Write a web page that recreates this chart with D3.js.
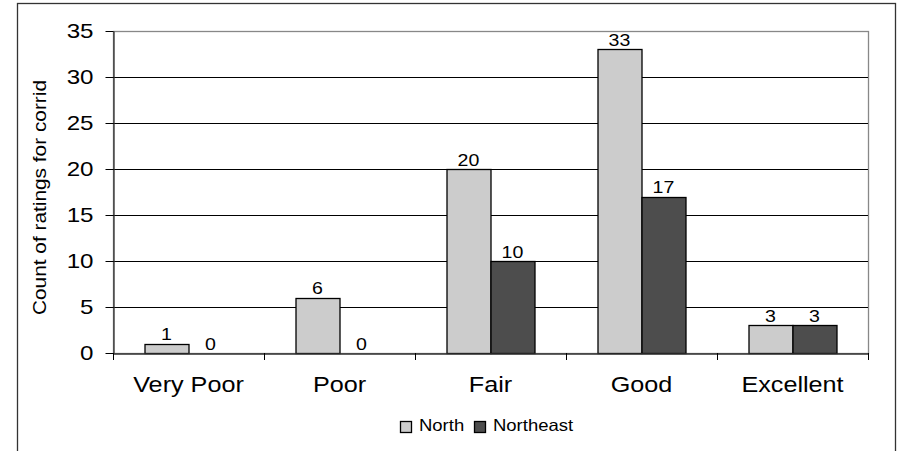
<!DOCTYPE html>
<html>
<head>
<meta charset="utf-8">
<script src="https://cdn.jsdelivr.net/npm/d3@7"></script>
<style>
  html, body { margin: 0; padding: 0; background: #fff; }
  svg { display: block; font-family: "Liberation Sans", Arial, sans-serif; }
</style>
</head>
<body>
<svg id="chart" width="899" height="451"></svg>
<script>
// Ratings per category for the two corridors
const categories = ["Very Poor", "Poor", "Fair", "Good", "Excellent"];
const seriesNames = ["North", "Northeast"];
const northValues = [1, 6, 20, 33, 3];
const northeastValues = [0, 0, 10, 17, 3];
const yTicks = [0, 5, 10, 15, 20, 25, 30, 35];
const yTitle = "Count of ratings for corrid";
const colors = ["#cccccc", "#4d4d4d"];

const FONT = "'Liberation Sans', Arial, sans-serif";
const svg = d3.select("#chart");
const H = 451;
const plot = { left: 113, top: 31, right: 868, bottom: 353 };

// widen glyphs horizontally by factor k (text is drawn slightly wide)
function stretch(sel, k) {
  sel.each(function () {
    const len = this.getComputedTextLength();
    d3.select(this).attr("textLength", len * k).attr("lengthAdjust", "spacingAndGlyphs");
  });
}

// outer chart frame
svg.append("rect")
  .attr("x", 17.5).attr("y", 3.5)
  .attr("width", 895 - 17).attr("height", H + 10)
  .attr("fill", "#fff").attr("stroke", "#333").attr("stroke-width", 1.3);

const x = d3.scaleBand().domain(categories).range([plot.left, plot.right]).padding(0);
const x1 = d3.scaleBand().domain(seriesNames).range([0, x.bandwidth()])
  .paddingInner(0).paddingOuter(0.716);
const y = d3.scaleLinear().domain([0, 35]).range([plot.bottom, plot.top]);

// plot area border (gray)
svg.append("rect")
  .attr("x", plot.left + 0.5).attr("y", plot.top + 0.5)
  .attr("width", plot.right - plot.left).attr("height", plot.bottom - plot.top)
  .attr("fill", "none").attr("stroke", "#888").attr("stroke-width", 1.3);

// horizontal gridlines
svg.append("g").selectAll("line")
  .data(yTicks.filter(t => t > 0 && t < 35))
  .join("line")
  .attr("x1", plot.left).attr("x2", plot.right)
  .attr("y1", d => Math.round(y(d)) + 0.5).attr("y2", d => Math.round(y(d)) + 0.5)
  .attr("stroke", "#000").attr("stroke-width", 1);

// y axis
const yAxis = d3.axisLeft(y).tickValues(yTicks).tickSize(8).tickPadding(12).tickSizeOuter(0);
const gy = svg.append("g").attr("transform", `translate(${plot.left + 0.5},0)`).call(yAxis)
  .attr("font-family", FONT);
gy.select(".domain").attr("stroke", "#333").attr("stroke-width", 1.3);
gy.selectAll(".tick line").attr("stroke", "#000");
gy.selectAll(".tick text").attr("font-size", 21).attr("fill", "#000").call(stretch, 1.15);

// bars
const data = categories.map((c, i) => ({ cat: c, vals: [northValues[i], northeastValues[i]] }));
const groups = svg.append("g").selectAll("g")
  .data(data).join("g")
  .attr("transform", d => `translate(${x(d.cat)},0)`);

groups.selectAll("rect")
  .data(d => d.vals.map((v, j) => ({ name: seriesNames[j], v, j })).filter(e => e.v > 0))
  .join("rect")
  .attr("x", d => x1(d.name) + 0.5)
  .attr("y", d => Math.round(y(d.v)) + 0.5)
  .attr("width", x1.bandwidth())
  .attr("height", d => Math.round(y(0)) - Math.round(y(d.v)))
  .attr("fill", d => colors[d.j])
  .attr("stroke", "#000").attr("stroke-width", 1.3);

// value labels
groups.selectAll("text")
  .data(d => d.vals.map((v, j) => ({ name: seriesNames[j], v, j })))
  .join("text")
  .attr("x", d => x1(d.name) + x1.bandwidth() / 2)
  .attr("y", d => y(d.v) - 3.5)
  .attr("text-anchor", "middle")
  .attr("font-size", 17)
  .attr("fill", "#000")
  .text(d => d.v)
  .call(stretch, 1.15);

// x axis
const xAxis = d3.axisBottom(x).tickSize(0).tickPadding(0).tickSizeOuter(0);
const gx = svg.append("g").attr("transform", `translate(0,${plot.bottom + 0.5})`).call(xAxis)
  .attr("font-family", FONT);
gx.select(".domain").attr("stroke", "#333").attr("stroke-width", 1.3);
gx.selectAll(".tick text").attr("font-size", 22).attr("fill", "#000")
  .attr("dy", null).attr("y", 38.5)
  .call(stretch, 1.145);

// category separator ticks below the axis
svg.append("g").selectAll("line")
  .data(categories.map(c => x(c)).concat([x.range()[1]]))
  .join("line")
  .attr("x1", d => Math.round(d) + 0.5).attr("x2", d => Math.round(d) + 0.5)
  .attr("y1", plot.bottom).attr("y2", plot.bottom + 7)
  .attr("stroke", "#000");

// y axis title
svg.append("text")
  .attr("transform", "translate(46,197.5) rotate(-90)")
  .attr("text-anchor", "middle")
  .attr("font-size", 17.5)
  .attr("fill", "#000")
  .text(yTitle)
  .attr("textLength", 235).attr("lengthAdjust", "spacingAndGlyphs");

// legend
const legend = svg.append("g").attr("transform", "translate(400,421)");
const items = [{ name: "North", x: 0 }, { name: "Northeast", x: 74 }];
items.forEach((it, j) => {
  legend.append("rect")
    .attr("x", it.x + 0.5).attr("y", 0.5).attr("width", 11).attr("height", 11)
    .attr("fill", colors[j]).attr("stroke", "#000").attr("stroke-width", 1.3);
  legend.append("text")
    .attr("x", it.x + 19).attr("y", 10)
    .attr("font-size", 16.5).attr("fill", "#000")
    .text(it.name)
    .call(stretch, 1.12);
});
</script>
</body>
</html>
